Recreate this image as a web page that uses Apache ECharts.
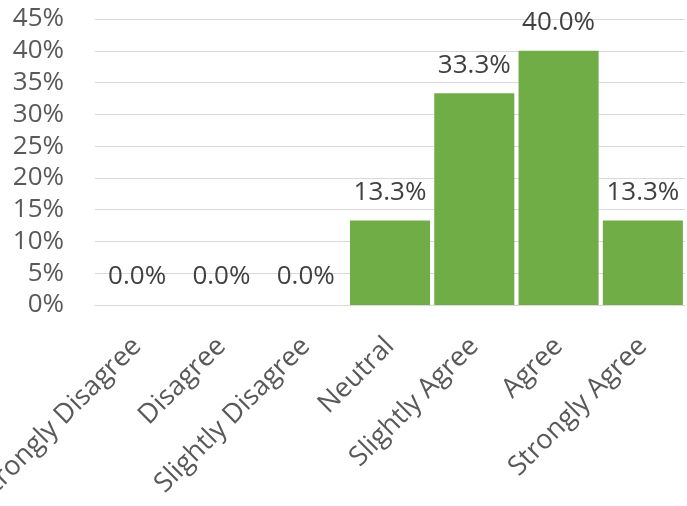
<!DOCTYPE html>
<html>
<head>
<meta charset="utf-8">
<script src="https://cdn.jsdelivr.net/npm/echarts@6/dist/echarts.min.js"></script>
<style>
html,body{margin:0;padding:0;background:#fff;}
#chart{width:687px;height:506px;}
</style>
</head>
<body>
<div id="chart"></div>
<script>
const categories = ['Strongly Disagree','Disagree','Slightly Disagree','Neutral','Slightly Agree','Agree','Strongly Agree'];
const values = [0.0, 0.0, 0.0, 13.3, 33.3, 40.0, 13.3];
const yTicks = { min: 0, max: 45, interval: 5 };

const chart = echarts.init(document.getElementById('chart'), null, {renderer: 'canvas'});
const font = '"Open Sans", sans-serif';
chart.setOption({
  animation: false,
  backgroundColor: '#ffffff',
  grid: { left: 95, right: 2, top: 19, bottom: 201, containLabel: false, outerBoundsMode: 'none' },
  xAxis: {
    type: 'category',
    data: categories,
    axisLine: { show: true, lineStyle: { color: '#D9D9D9', width: 1 } },
    axisTick: { show: false },
    axisLabel: {
      interval: 0,
      rotate: 45,
      margin: 37,
      color: '#595959',
      fontFamily: font,
      fontSize: 27
    }
  },
  yAxis: {
    type: 'value',
    min: yTicks.min,
    max: yTicks.max,
    interval: yTicks.interval,
    axisLine: { show: false },
    axisTick: { show: false },
    splitLine: { lineStyle: { color: '#D9D9D9', width: 1 } },
    axisLabel: {
      formatter: '{value}%',
      margin: 31,
      color: '#595959',
      fontFamily: font,
      fontSize: 26
    }
  },
  series: [{
    type: 'bar',
    data: values,
    barCategoryGap: '5%',
    itemStyle: { color: '#70AD47' },
    label: {
      show: true,
      position: 'top',
      distance: 15,
      formatter: p => p.value.toFixed(1) + '%',
      color: '#404040',
      fontFamily: font,
      fontSize: 26
    }
  }]
});
</script>
</body>
</html>
